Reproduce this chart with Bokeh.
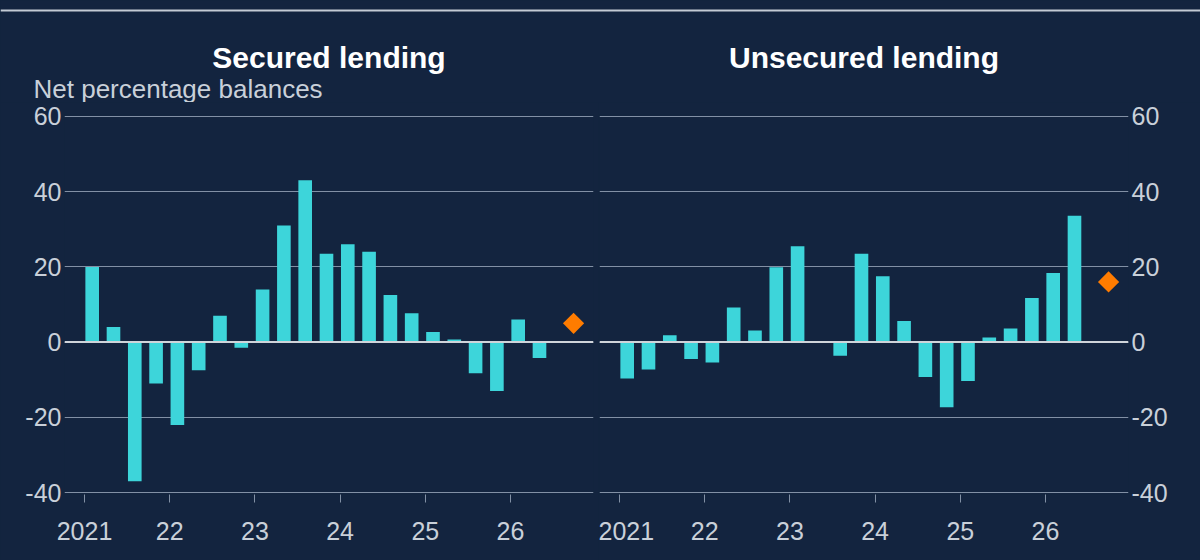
from bokeh.core.properties import value
from bokeh.embed import file_html
from bokeh.layouts import column, row
from bokeh.models import ColumnDataSource, FixedTicker, Range1d, Span
from bokeh.plotting import figure
from bokeh.resources import INLINE

# Quarterly net percentage balances
quarters = [
    "2021 Q1", "2021 Q2", "2021 Q3", "2021 Q4",
    "2022 Q1", "2022 Q2", "2022 Q3", "2022 Q4",
    "2023 Q1", "2023 Q2", "2023 Q3", "2023 Q4",
    "2024 Q1", "2024 Q2", "2024 Q3", "2024 Q4",
    "2025 Q1", "2025 Q2", "2025 Q3", "2025 Q4",
    "2026 Q1", "2026 Q2",
]
secured = [20, 4, -37, -11, -22, -7.5, 7, -1.5, 14, 31, 43, 23.5,
           26, 24, 12.5, 7.7, 2.7, 0.7, -8.3, -13, 6, -4.2]
unsecured = [-9.7, -7.3, 1.8, -4.5, -5.4, 9.2, 3.1, 19.9, 25.5, 0, -3.6, 23.5,
             17.5, 5.6, -9.3, -17.3, -10.3, 1.2, 3.6, 11.7, 18.4, 33.6]

# Expected balance for the coming quarter
outlook_quarter = "2026 Q3"
secured_outlook = 5
unsecured_outlook = 16

year_ticks = [2021, 2022, 2023, 2024, 2025, 2026]
year_labels = ["2021", "22", "23", "24", "25", "26"]
value_ticks = [-40, -20, 0, 20, 40, 60]
value_labels = ["-40", "-20", "0", "20", "40", "60"]

panel_titles = ["Secured lending", "Unsecured lending"]
units_note = "Net percentage balances"

NAVY = "#13243f"
BAR = "#3dd5da"
ORANGE = "#ff7c00"
GRID = "#8290a5"
ZERO = "#cfd4da"
RULE = "#c3cad4"
TEXT = "#c9d0d9"
FONT = "Liberation Sans"

HEAD_H = 102


def quarter_pos(label):
    year, q = label.split(" Q")
    return int(year) + (int(q) - 1) * 0.25 + 0.09


# Header strip: rule, panel titles and units note
head = figure(width=1200, height=HEAD_H, x_range=Range1d(0, 1200),
              y_range=Range1d(HEAD_H, 0),
              output_backend="svg", toolbar_location=None, title=None,
              x_axis_type=None, y_axis_type=None,
              background_fill_color=NAVY, border_fill_color=NAVY, outline_line_color=None,
              min_border_left=0, min_border_right=0, min_border_top=0, min_border_bottom=0)
head.xgrid.grid_line_color = None
head.ygrid.grid_line_color = None
head.add_layout(Span(location=10, dimension="width", line_color=RULE, line_width=2))
head.text(x=[328.5, 863.5], y=[57, 57], text=panel_titles,
          text_align="center", text_baseline="alphabetic",
          text_font=value(FONT), text_font_style="bold",
          text_font_size="30px", text_color="#ffffff")
head.text(x=[33], y=[88], text=[units_note],
          text_align="left", text_baseline="alphabetic",
          text_font=value(FONT), text_font_size="26px", text_color=TEXT)


def make_panel(values, outlook, side):
    src = ColumnDataSource(dict(x=[quarter_pos(q) for q in quarters], top=values))
    p = figure(
        width=598 if side == "left" else 602,
        height=560 - HEAD_H,
        title=None,
        x_range=Range1d(2020.765, 2026.974),
        y_range=Range1d(-40.5, 60.5),
        output_backend="svg",
        toolbar_location=None,
        y_axis_location=side,
        background_fill_color=NAVY,
        border_fill_color=NAVY,
        outline_line_color=None,
        min_border_left=64 if side == "left" else 1,
        min_border_right=5 if side == "left" else 72,
        min_border_top=114 - HEAD_H,
        min_border_bottom=66,
    )
    p.vbar(x="x", top="top", bottom=0, width=0.16, source=src,
           fill_color=BAR, line_color=None)
    p.scatter(x=[quarter_pos(outlook_quarter) + 0.15], y=[outlook], marker="square",
              angle=0.785398, size=15, fill_color=ORANGE, line_color=None)
    p.add_layout(Span(location=0, dimension="width", line_color=ZERO, line_width=2))

    p.xgrid.grid_line_color = None
    p.ygrid.ticker = FixedTicker(ticks=value_ticks)
    p.ygrid.grid_line_color = GRID
    p.ygrid.grid_line_width = 1

    xa = p.xaxis[0]
    xa.ticker = FixedTicker(ticks=year_ticks)
    xa.major_label_overrides = dict(zip(year_ticks, year_labels))
    xa.axis_line_color = None
    xa.major_tick_in = 0
    xa.major_tick_out = 8
    xa.major_tick_line_color = GRID
    xa.minor_tick_line_color = None
    xa.major_label_standoff = 19
    xa.major_label_text_font = FONT
    xa.major_label_text_font_size = "25px"
    xa.major_label_text_color = TEXT

    ya = p.yaxis[0]
    ya.ticker = FixedTicker(ticks=value_ticks)
    ya.major_label_overrides = dict(zip(value_ticks, value_labels))
    ya.axis_line_color = None
    ya.major_tick_line_color = None
    ya.minor_tick_line_color = None
    ya.major_tick_in = 0
    ya.major_tick_out = 0
    ya.major_label_standoff = 3
    ya.major_label_text_font = FONT
    ya.major_label_text_font_size = "25px"
    ya.major_label_text_color = TEXT
    return p


left = make_panel(secured, secured_outlook, "left")
right = make_panel(unsecured, unsecured_outlook, "right")

layout = column(head, row(left, right, spacing=0), spacing=0,
                styles={"background-color": NAVY})

open("out.html", "w").write(file_html(layout, INLINE))
